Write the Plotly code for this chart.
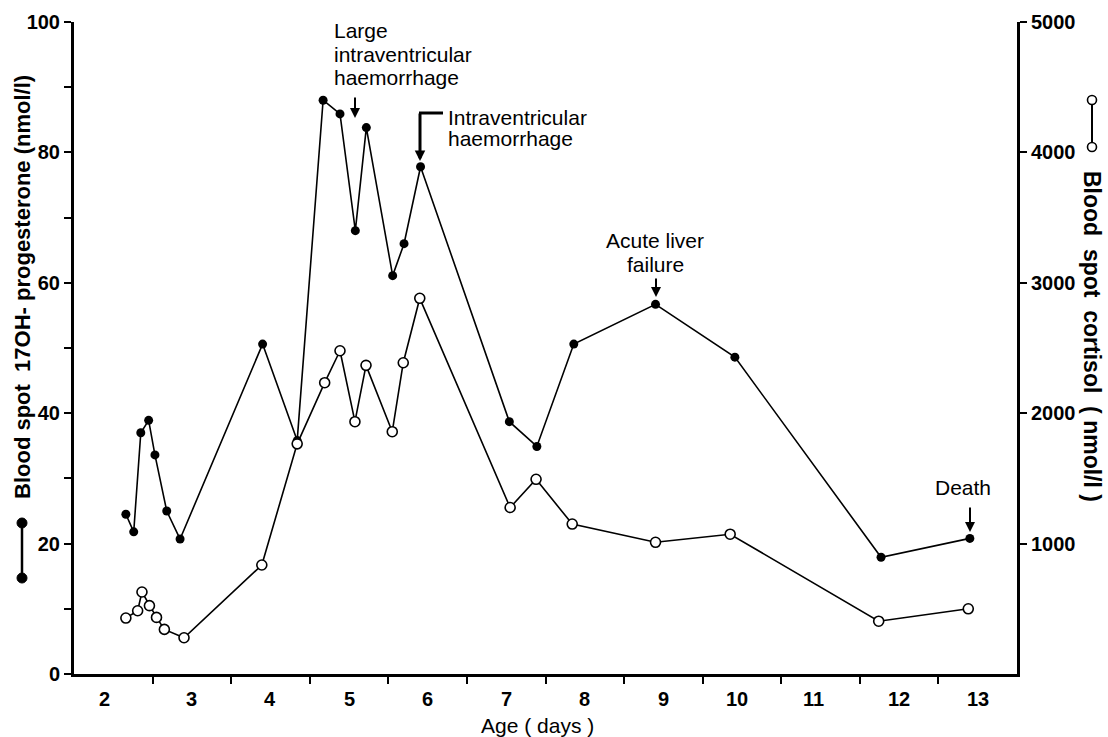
import plotly.graph_objects as go

# ---------------- data ----------------
# Age positions (days, axis units) and values
age_ohp = [2.66, 2.76, 2.85, 2.95, 3.03, 3.18, 3.35, 4.40, 4.84, 5.17, 5.385,
           5.58, 5.72, 6.055, 6.20, 6.41, 7.54, 7.89, 8.36, 9.40, 10.41, 12.27, 13.40]
ohp_nmol = [24.5, 21.8, 37.0, 38.9, 33.6, 25.0, 20.7, 50.6, 35.8, 88.0, 85.9,
            68.0, 83.8, 61.1, 66.0, 77.8, 38.7, 34.9, 50.6, 56.7, 48.6, 17.9, 20.8]

age_cortisol = [2.66, 2.81, 2.865, 2.96, 3.05, 3.15, 3.40, 4.39, 4.84, 5.19, 5.385,
                5.575, 5.716, 6.05, 6.19, 6.40, 7.55, 7.88, 8.34, 9.40, 10.35, 12.24, 13.38]
cortisol_nmol = [429, 485, 629, 524, 434, 342, 278, 836, 1765, 2234, 2479,
                 1935, 2367, 1858, 2387, 2881, 1277, 1493, 1150, 1010, 1072, 405, 500]

x_tick_labels = ["2", "3", "4", "5", "6", "7", "8", "9", "10", "11", "12", "13"]
left_ticks = [0, 20, 40, 60, 80, 100]
right_ticks = [1000, 2000, 3000, 4000, 5000]

left_title = "Blood spot  17OH- progesterone (nmol/l)"
right_title = "Blood  spot  cortisol  ( nmol/l )"
x_title = "Age ( days )"

large_ivh_lines = ["Large", "intraventricular", "haemorrhage"]
ivh_lines = ["Intraventricular", "haemorrhage"]
liver_lines = ["Acute liver", "failure"]
death_lines = ["Death"]

# ---------------- figure ----------------
FONT = "Liberation Sans"
fig = go.Figure()

fig.add_trace(go.Scatter(
    x=age_ohp, y=ohp_nmol, mode="lines+markers", yaxis="y",
    line=dict(color="black", width=1.6),
    marker=dict(color="black", size=9, symbol="circle"),
    hoverinfo="skip"))

fig.add_trace(go.Scatter(
    x=age_cortisol, y=cortisol_nmol, mode="lines+markers", yaxis="y2",
    line=dict(color="black", width=1.6),
    marker=dict(color="white", size=10, symbol="circle",
                line=dict(color="black", width=1.6)),
    hoverinfo="skip"))

# plot area in pixels
L, R, T, B = 74, 1017, 22, 674
W, H = R - L, B - T


def px(xp):
    return (xp - L) / W


def py(yp):
    return (B - yp) / H


annotations = []

# x tick labels centred in each day interval
nudge = {"2": -0.11, "10": -0.06, "11": -0.09}
for lab in x_tick_labels:
    xv = int(lab) + 0.5 + nudge.get(lab, 0)
    annotations.append(dict(x=xv, xref="x", y=py(699), yref="paper", text=lab,
                            showarrow=False, xanchor="center", yanchor="middle",
                            font=dict(family=FONT, size=20, color="black", weight="bold")))

annotations.append(dict(x=px(537), xref="paper", y=py(725), yref="paper", text=x_title,
                        showarrow=False, xanchor="center", yanchor="middle",
                        font=dict(family=FONT, size=21, color="black")))

annotations.append(dict(x=px(22), xref="paper", y=py(287), yref="paper", text=left_title,
                        textangle=-90, showarrow=False, xanchor="center", yanchor="middle",
                        font=dict(family=FONT, size=22, color="black", weight="bold")))
annotations.append(dict(x=px(1092), xref="paper", y=py(336), yref="paper", text=right_title,
                        textangle=90, showarrow=False, xanchor="center", yanchor="middle",
                        font=dict(family=FONT, size=23, color="black", weight="bold")))


def text_block(lines, xpix, ypix0, step, anchor):
    for k, t in enumerate(lines):
        annotations.append(dict(x=px(xpix), xref="paper", y=py(ypix0 + k * step), yref="paper",
                                text=t, showarrow=False, xanchor=anchor, yanchor="middle",
                                font=dict(family=FONT, size=21, color="black")))


text_block(large_ivh_lines, 332, 30, 24, "left")
text_block(ivh_lines, 446, 117, 22, "left")
text_block(liver_lines, 655, 241, 23, "center")
text_block(death_lines, 963, 487, 23, "center")


def arrow(xpix, ytip, ytail, width=2, size=1.0):
    annotations.append(dict(x=px(xpix), xref="paper", y=py(ytip), yref="paper",
                            ax=0, ay=-(ytip - ytail), axref="pixel", ayref="pixel",
                            text="", showarrow=True, arrowhead=2, arrowsize=size,
                            arrowwidth=width, arrowcolor="black"))


arrow(355, 118, 96)
arrow(420, 161, 112, width=3, size=0.7)
arrow(656, 297, 277)
arrow(970, 532, 506)

shapes = [
    dict(type="line", xref="paper", yref="paper", x0=px(419), x1=px(443),
         y0=py(113), y1=py(113), line=dict(color="black", width=3)),
    dict(type="line", xref="paper", yref="paper", x0=px(22), x1=px(22),
         y0=py(523), y1=py(578), line=dict(color="black", width=2.5)),
    dict(type="line", xref="paper", yref="paper", x0=px(1092), x1=px(1092),
         y0=py(100), y1=py(147), line=dict(color="black", width=2)),
]
for yc in (523, 578):
    shapes.append(dict(type="circle", xref="paper", yref="paper",
                       xsizemode="pixel", ysizemode="pixel",
                       xanchor=px(22), yanchor=py(yc), x0=-5, x1=5, y0=-5, y1=5,
                       fillcolor="black", line=dict(color="black", width=1)))
for yc in (100, 147):
    shapes.append(dict(type="circle", xref="paper", yref="paper",
                       xsizemode="pixel", ysizemode="pixel",
                       xanchor=px(1092), yanchor=py(yc), x0=-4.5, x1=4.5, y0=-4.5, y1=4.5,
                       fillcolor="white", line=dict(color="black", width=1.6)))

fig.update_layout(
    width=1108, height=737,
    margin=dict(l=L, r=1108 - R, t=T, b=737 - B, autoexpand=False),
    plot_bgcolor="white", paper_bgcolor="white",
    showlegend=False,
    xaxis=dict(range=[2, 14], tickmode="array", tickvals=list(range(3, 14)),
               ticktext=[""] * 11, ticks="outside", ticklen=7, tickwidth=2,
               tickcolor="black", showline=True, linecolor="black", linewidth=2.5,
               showgrid=False, zeroline=False, fixedrange=True),
    yaxis=dict(range=[0, 100], tickmode="array", tickvals=left_ticks,
               ticks="outside", ticklen=7, tickwidth=2, tickcolor="black",
               minor=dict(tickmode="linear", tick0=0, dtick=10, ticks="outside",
                          ticklen=7, tickwidth=2, tickcolor="black"),
               showline=True, linecolor="black", linewidth=3,
               tickfont=dict(family=FONT, size=20, color="black", weight="bold"),
               showgrid=False, zeroline=False, fixedrange=True),
    yaxis2=dict(range=[0, 5000], overlaying="y", side="right", tickmode="array",
                tickvals=right_ticks, ticks="outside", ticklen=7, tickwidth=2,
                tickcolor="black", showline=True, linecolor="black", linewidth=3,
                tickfont=dict(family=FONT, size=20, color="black", weight="bold"),
                showgrid=False, zeroline=False, fixedrange=True),
    annotations=annotations,
    shapes=shapes,
)

fig.write_html(
    "out.html",
    config={"displayModeBar": False, "staticPlot": True},
    post_script="document.body.style.margin='0';document.body.style.padding='0';"
                "document.documentElement.style.overflow='hidden';",
)
